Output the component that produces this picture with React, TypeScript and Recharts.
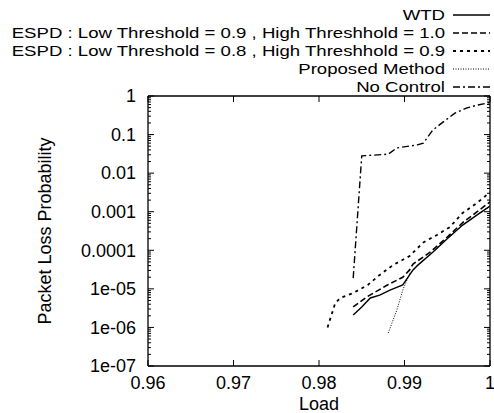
import React from 'react';
import { LineChart, Line, XAxis, YAxis } from 'recharts';

const xTicks = [0.96, 0.97, 0.98, 0.99, 1];
const xTickLabels = ['0.96', '0.97', '0.98', '0.99', '1'];
const yMajor = [1e-7, 1e-6, 1e-5, 1e-4, 1e-3, 1e-2, 1e-1, 1];
const yLabels = ['1e-07', '1e-06', '1e-05', '0.0001', '0.001', '0.01', '0.1', '1'];

const wtdLoad = [0.984, 0.985, 0.986, 0.9871, 0.9883, 0.9898, 0.9906, 0.991, 0.9915, 0.9933, 0.995, 0.9968, 0.9985, 1.0];
const wtdLoss = [2.1e-6, 3.4e-6, 5.8e-6, 6.9e-6, 9.3e-6, 1.26e-5, 2.3e-5, 3.1e-5, 4.0e-5, 8.9e-5, 2.0e-4, 4.5e-4, 8.3e-4, 1.4e-3];

const espd1Load = [0.984, 0.9856, 0.988, 0.9898, 0.9906, 0.991, 0.993, 0.995, 0.9968, 0.9985, 1.0];
const espd1Loss = [3.4e-6, 6.2e-6, 1.26e-5, 2.0e-5, 3.1e-5, 4.4e-5, 8.9e-5, 2.2e-4, 5.2e-4, 1.0e-3, 1.8e-3];

const espd2Load = [0.981, 0.9819, 0.9825, 0.984, 0.9857, 0.9871, 0.9887, 0.9906, 0.9922, 0.9938, 0.9953, 0.9968, 0.9985, 1.0];
const espd2Loss = [1.0e-6, 4.3e-6, 5.8e-6, 7.8e-6, 1.26e-5, 2.3e-5, 4.2e-5, 7.1e-5, 1.6e-4, 2.5e-4, 4.0e-4, 9.3e-4, 1.7e-3, 3.2e-3];

const propLoad = [0.9881, 0.9891, 0.9898, 0.9906, 0.9915, 0.9933, 0.995, 0.9968, 0.9985, 1.0];
const propLoss = [7.2e-7, 2.8e-6, 9.3e-6, 2.5e-5, 4.0e-5, 8.9e-5, 2.0e-4, 4.5e-4, 8.3e-4, 1.4e-3];

const noCtlLoad = [0.984, 0.985, 0.9881, 0.9891, 0.9915, 0.9922, 0.9933, 0.9945, 0.9959, 0.9973, 0.9985, 1.0];
const noCtlLoss = [1.9e-5, 0.028, 0.031, 0.045, 0.054, 0.06, 0.13, 0.21, 0.36, 0.49, 0.58, 0.68];

const zip = (xs: number[], ys: number[]) => xs.map((x, i) => ({ load: x, loss: ys[i] }));

const seriesList = [
  { name: 'WTD', data: zip(wtdLoad, wtdLoss), dash: undefined as string | undefined, width: 1.4 },
  { name: 'ESPD : Low Threshold = 0.9 , High Threshhold = 1.0', data: zip(espd1Load, espd1Loss), dash: '6 3', width: 1.6 },
  { name: 'ESPD : Low Threshold = 0.8 , High Threshhold = 0.9', data: zip(espd2Load, espd2Loss), dash: '3 4', width: 1.8 },
  { name: 'Proposed Method', data: zip(propLoad, propLoss), dash: '1 1.5', width: 1 },
  { name: 'No Control', data: zip(noCtlLoad, noCtlLoss), dash: '7 3 2 3', width: 1.4 },
];

const yTicks: number[] = [];
for (let d = -7; d < 0; d++) {
  for (let m = 1; m <= 9; m++) yTicks.push(Number((m * Math.pow(10, d)).toPrecision(3)));
}
yTicks.push(1);

const FONT = '"Liberation Sans", Arial, Helvetica, sans-serif';
const FS = 18;
const LFS = 15.5;
const LSCALE = 1.2;

const majorIndex = (v: number) =>
  yMajor.findIndex((m) => Math.abs(Math.log10(m) - Math.log10(v)) < 1e-6);

const LeftTick = (props: any) => {
  const { x, y, payload } = props;
  const idx = majorIndex(payload.value);
  const major = idx >= 0;
  return (
    <g>
      <line x1={x} y1={y} x2={x + (major ? 6 : 3)} y2={y} stroke="#000" strokeWidth={1} />
      {major && (
        <text x={x - 12} y={y} dy="0.35em" textAnchor="end" fontFamily={FONT} fontSize={FS} fill="#000">
          {yLabels[idx]}
        </text>
      )}
    </g>
  );
};

const RightTick = (props: any) => {
  const { x, y, payload } = props;
  const major = majorIndex(payload.value) >= 0;
  return <line x1={x} y1={y} x2={x - (major ? 6 : 3)} y2={y} stroke="#000" strokeWidth={1} />;
};

const BottomTick = (props: any) => {
  const { x, y, payload, index } = props;
  return (
    <g>
      <line x1={x} y1={y} x2={x} y2={y - 6} stroke="#000" strokeWidth={1} />
      <text x={x} y={y + 17} dy="0.35em" textAnchor="middle" fontFamily={FONT} fontSize={FS} fill="#000">
        {xTickLabels[index] ?? String(payload.value)}
      </text>
    </g>
  );
};

const TopTick = (props: any) => {
  const { x, y } = props;
  return <line x1={x} y1={y} x2={x} y2={y + 6} stroke="#000" strokeWidth={1} />;
};

const legendRows = [15, 33, 51, 69, 87];

export default function App() {
  return (
    <div style={{ position: 'absolute', left: 0, top: 0, width: 494, height: 413, background: '#fff' }}>
      <LineChart width={494} height={413} margin={{ top: 95, right: 0, bottom: 0, left: 0 }}>
        <XAxis
          dataKey="load"
          type="number"
          domain={[0.96, 1]}
          ticks={xTicks}
          interval={0}
          allowDataOverflow
          height={47}
          tickSize={0}
          tickMargin={0}
          tickLine={false}
          tick={<BottomTick />}
          axisLine={{ stroke: '#000', strokeWidth: 1.3 }}
        />
        <XAxis
          xAxisId="top"
          orientation="top"
          dataKey="load"
          type="number"
          domain={[0.96, 1]}
          ticks={xTicks}
          interval={0}
          allowDataOverflow
          height={1}
          tickSize={0}
          tickMargin={0}
          tickLine={false}
          tick={<TopTick />}
          axisLine={{ stroke: '#000', strokeWidth: 1.3 }}
        />
        <YAxis
          dataKey="loss"
          scale="log"
          type="number"
          domain={[1e-7, 1]}
          ticks={yTicks}
          interval={0}
          allowDataOverflow
          width={148}
          tickSize={0}
          tickMargin={0}
          tickLine={false}
          tick={<LeftTick />}
          axisLine={{ stroke: '#000', strokeWidth: 1.3 }}
        />
        <YAxis
          yAxisId="r"
          orientation="right"
          dataKey="loss"
          scale="log"
          type="number"
          domain={[1e-7, 1]}
          ticks={yTicks}
          interval={0}
          allowDataOverflow
          width={4}
          tickSize={0}
          tickMargin={0}
          tickLine={false}
          tick={<RightTick />}
          axisLine={{ stroke: '#000', strokeWidth: 1.3 }}
        />
        {seriesList.map((s) => (
          <Line
            key={s.name}
            name={s.name}
            data={s.data}
            dataKey="loss"
            type="linear"
            stroke="#000"
            strokeWidth={s.width}
            strokeDasharray={s.dash}
            dot={false}
            activeDot={false}
            isAnimationActive={false}
          />
        ))}
      </LineChart>
      <svg
        width={494}
        height={413}
        style={{ position: 'absolute', left: 0, top: 0, pointerEvents: 'none' }}
      >
        {seriesList.map((s, i) => (
          <g key={s.name}>
            <text
              x={0}
              y={0}
              dy="0.35em"
              textAnchor="end"
              fontFamily={FONT}
              fontSize={LFS}
              fill="#000"
              transform={`translate(445 ${legendRows[i]}) scale(${LSCALE} 1)`}
            >
              {s.name}
            </text>
            <line
              x1={453}
              x2={490}
              y1={legendRows[i]}
              y2={legendRows[i]}
              stroke="#000"
              strokeWidth={s.width}
              strokeDasharray={s.dash}
            />
          </g>
        ))}
        <text
          x={45}
          y={231}
          dy="0.35em"
          textAnchor="middle"
          fontFamily={FONT}
          fontSize={FS}
          fill="#000"
          transform="rotate(-90 45 231)"
        >
          Packet Loss Probability
        </text>
        <text x={319} y={404} dy="0.35em" textAnchor="middle" fontFamily={FONT} fontSize={FS} fill="#000">
          Load
        </text>
      </svg>
    </div>
  );
}
